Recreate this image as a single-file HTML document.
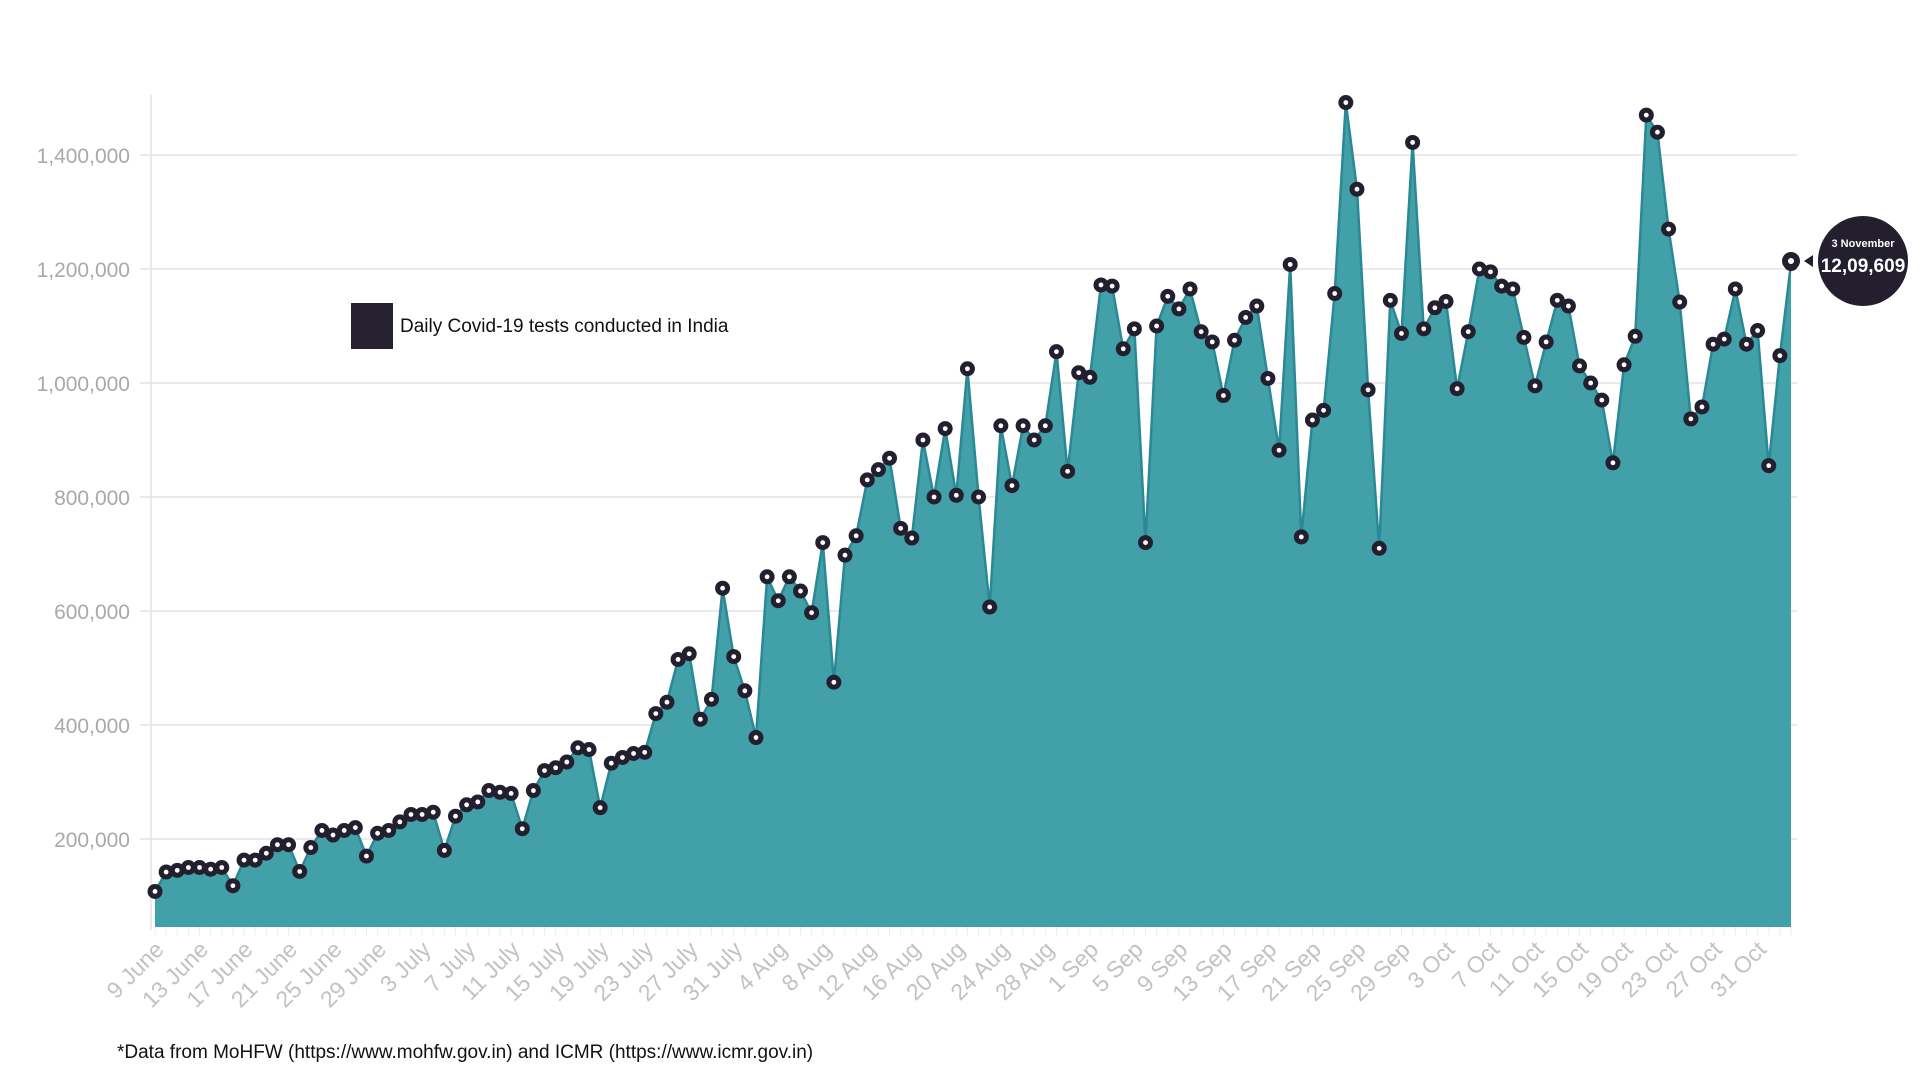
<!DOCTYPE html>
<html><head><meta charset="utf-8"><style>
html,body{margin:0;padding:0;background:#fff;width:1920px;height:1080px;overflow:hidden}
svg{display:block}
text{font-family:"Liberation Sans",sans-serif}
</style></head><body>
<svg id="s" width="1920" height="1080" xmlns="http://www.w3.org/2000/svg"></svg>
<script>
const v=[108,142,145,150,150,147,150,118,163,163,175,190,190,143,185,215,207,215,220,170,210,215,230,243,243,247,180,240,260,265,285,282,280,218,285,320,325,335,360,357,255,333,343,350,352,420,440,515,525,410,445,640,520,460,378,660,618,660,635,597,720,475,698,732,830,848,868,745,728,900,800,920,803,1025,800,607,925,820,925,900,925,1055,845,1018,1010,1172,1170,1060,1095,720,1100,1152,1130,1165,1090,1072,978,1075,1115,1135,1008,882,1208,730,935,952,1157,1492,1340,988,710,1145,1087,1422,1095,1132,1143,990,1090,1200,1195,1170,1165,1080,995,1072,1145,1135,1030,1000,970,860,1032,1082,1470,1440,1270,1142,937,958,1068,1077,1165,1068,1092,855,1048,1209.6];
const x0=155,x1=1791,Y=k=>953-k*0.570,bot=927;
const n=v.length,dx=(x1-x0)/(n-1),X=i=>x0+i*dx;
let h='';
[200,400,600,800,1000,1200,1400].forEach(k=>{const y=Y(k*1);
h+=`<line x1="140" x2="1797" y1="${y}" y2="${y}" stroke="#e3e3e3" stroke-width="1.5"/>`;
h+=`<text x="130" y="${y+8}" text-anchor="end" font-size="21" fill="#a9a9a9">${(k*1000).toLocaleString('en-US')}</text>`;});
h+=`<line x1="151" x2="151" y1="95" y2="930" stroke="#e3e3e3" stroke-width="1.5"/>`;
let p=`M${x0},${bot}`;v.forEach((k,i)=>p+=` L${X(i).toFixed(1)},${Y(k).toFixed(1)}`);p+=` L${x1},${bot}Z`;
h+=`<path d="${p}" fill="#41a0a8"/>`;
let l='';v.forEach((k,i)=>l+=(i?' L':'M')+X(i).toFixed(1)+','+Y(k).toFixed(1));
h+=`<path d="${l}" fill="none" stroke="#2b8895" stroke-width="2.5"/>`;
v.forEach((k,i)=>{h+=`<circle cx="${X(i)}" cy="${Y(k)}" r="7.5" fill="#231f2f"/><circle cx="${X(i)}" cy="${Y(k)}" r="2.4" fill="#fff"/>`;});
const mon=["June","July","Aug","Sep","Oct"],ml=[30,31,31,30,31];
for(let i=0;i<n-1;i+=4){let d=9+i,m=0;while(d>ml[m]){d-=ml[m];m++;}
const x=X(i);h+=`<text transform="translate(${x+10},${bot+24}) rotate(-45)" text-anchor="end" font-size="23" fill="#c2c2c2">${d} ${mon[m]}</text>`;}
for(let i=0;i<n;i++)h+=`<line x1="${X(i)}" x2="${X(i)}" y1="${bot}" y2="${bot+8}" stroke="#ececec"/>`;
h+=`<rect x="351" y="303" width="42" height="46" fill="#262230"/><text x="400" y="332" font-size="19" fill="#111">Daily Covid-19 tests conducted in India</text>`;
h+=`<circle cx="1863" cy="261" r="45" fill="#231f2f"/><polygon points="1804,261 1813,255 1813,267" fill="#231f2f"/>`;
h+=`<text x="1863" y="247" text-anchor="middle" font-size="11" font-weight="bold" fill="#fff">3 November</text>`;
h+=`<text x="1863" y="272" text-anchor="middle" font-size="19" font-weight="bold" fill="#fff">12,09,609</text>`;
h+=`<circle cx="1791" cy="261" r="9" fill="#231f2f"/><circle cx="1791" cy="261" r="3" fill="#fff"/>`;
h+=`<text x="117" y="1058" font-size="19" fill="#111">*Data from MoHFW (https://www.mohfw.gov.in) and ICMR (https://www.icmr.gov.in)</text>`;
document.getElementById('s').innerHTML=h;
</script>
</body></html>
